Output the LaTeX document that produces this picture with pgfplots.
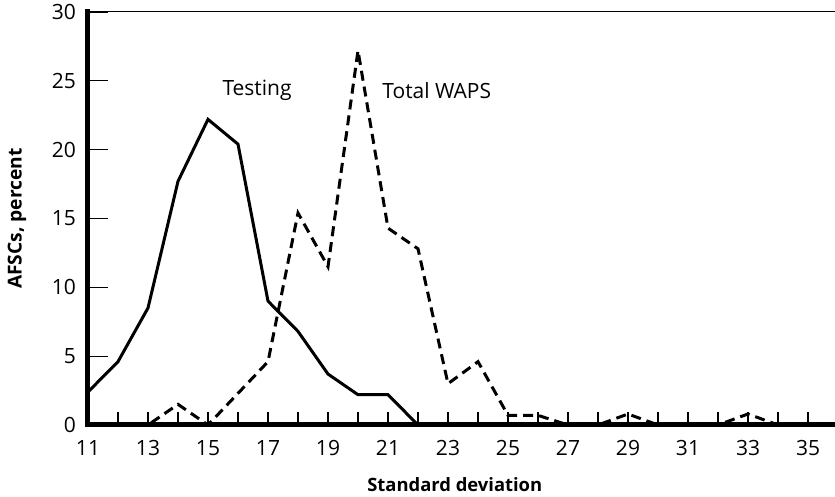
\documentclass[border=0pt]{standalone}
\usepackage{fontspec}
\setmainfont{Open Sans}
\usepackage{pgfplots}
\pgfplotsset{compat=1.18}

\pgfplotstableread{
x y
11 2.4
12 4.6
13 8.5
14 17.7
15 22.2
16 20.4
17 9.0
18 6.8
19 3.7
20 2.2
21 2.2
22 0
23 0
24 0
25 0
26 0
27 0
28 0
29 0
30 0
31 0
32 0
33 0
34 0
35 0
36 0
}\testing

\pgfplotstableread{
x y
11 0
12 0
13 0
14 1.5
15 0
16 2.3
17 4.6
18 15.4
19 11.5
20 27.2
21 14.3
22 12.8
23 3.0
24 4.6
25 0.7
26 0.7
27 0
28 0
29 0.8
30 0
31 0
32 0
33 0.8
34 0
35 0
36 0
}\waps

\begin{document}
\begin{tikzpicture}
\begin{axis}[name=ax,
  scale only axis, width=375pt, height=206.5pt,
  xmin=11, xmax=36, ymin=0, ymax=30,
  axis line style={draw=none},
  tick align=inside, xtick pos=bottom, ytick pos=left,
  xtick={11,13,...,35}, minor xtick={12,13,...,35},
  ytick={0,5,...,30},
  major tick length=10pt, minor tick length=6.5pt,
  every major x tick/.append style={draw=none},
  every tick/.append style={black, line width=0.6pt},
  /pgf/number format/assume math mode=true,
  tick label style={font=\fontsize{10.5}{12}\selectfont},
  xticklabel style={yshift=-4pt},
  yticklabel style={xshift=-2.5pt},
  xlabel={Standard deviation}, ylabel={AFSCs, percent},
  every axis x label/.style={at={(axis description cs:0.489,-0.1453)}, anchor=center, font=\fontsize{9.2}{11}\selectfont\bfseries},
  every axis y label/.style={at={(axis description cs:-0.0947,0.5)}, anchor=center, rotate=90, font=\fontsize{9.6}{11}\selectfont\bfseries},
  clip=false,
]
\draw[black, line width=0.5pt] (rel axis cs:0,1) -- (rel axis cs:1,1);
\draw[black, line width=2.5pt, line cap=rect] (rel axis cs:0,1) -- (rel axis cs:0,0) -- (rel axis cs:1,0);
\addplot[black, line width=1.5pt, line join=miter] table[x=x,y=y] {\testing};
\addplot[black, line width=1.5pt, dash pattern=on 5pt off 3pt] table[x=x,y=y] {\waps};
\node[anchor=west, inner sep=0pt, font=\fontsize{10.5}{12}\selectfont] at (axis cs:15.47,24.3) {Testing};
\node[anchor=west, inner sep=0pt, font=\fontsize{10.5}{12}\selectfont] at (axis cs:20.8,24.3) {Total WAPS};
\end{axis}
\pgfresetboundingbox
\path ([shift={(-44pt,-36pt)}]ax.south west) rectangle ([shift={(-1.5pt,6pt)}]ax.north east);
\end{tikzpicture}
\end{document}
